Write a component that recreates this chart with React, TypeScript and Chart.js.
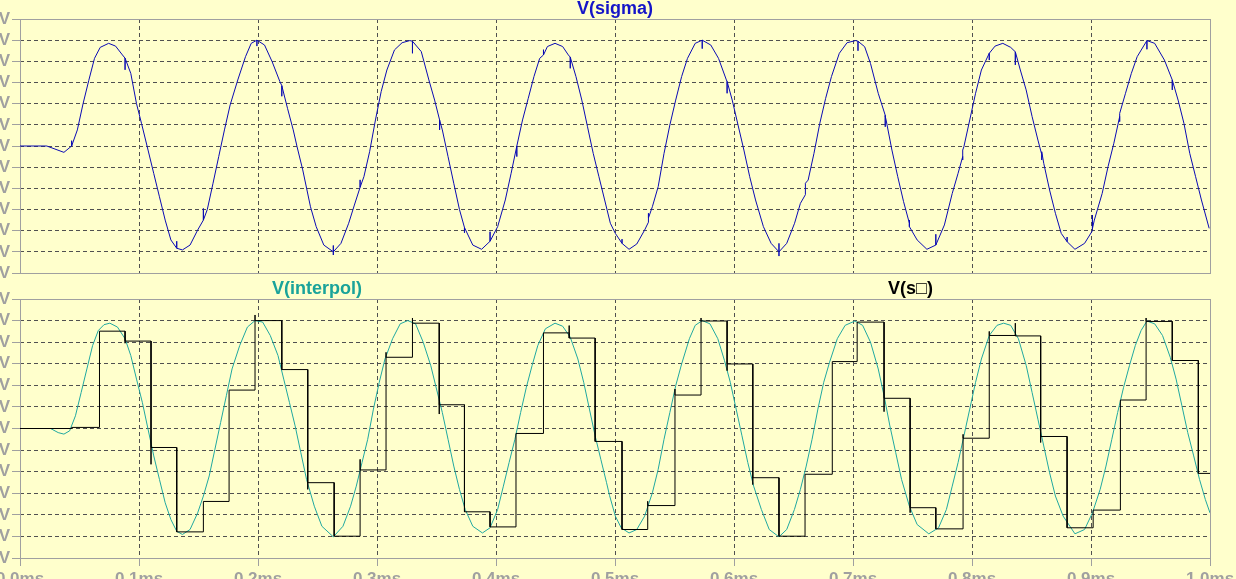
import React, { useEffect, useRef } from "react";
import { Chart, registerables } from "chart.js";

Chart.register(...registerables);

// ---------- data (time in ms, value in grid units) ----------
const xTickLabels = ["0.0ms", "0.1ms", "0.2ms", "0.3ms", "0.4ms", "0.5ms", "0.6ms", "0.7ms", "0.8ms", "0.9ms", "1.0ms"];
const yTickLabels = ["V", "V", "V", "V", "V", "V", "V", "V", "V", "V", "V", "V", "V"];

const sigmaTitle = "V(sigma)";
const interpolTitle = "V(interpol)";
const sampledTitle = "V(s\u25A1)";

// V(sigma): [time, value]; repeated times are the small glitches
const sigmaPoints: [number, number][] = [
  [0, 0], [0.0225, 0], [0.0369, -0.3], [0.0434, 0], [0.0434, 0.25], [0.0434, 0],
  [0.0482, 0.76], [0.053, 2.0], [0.0578, 3.1], [0.0626, 4.14], [0.0674, 4.66], [0.0745, 4.85],
  [0.0803, 4.72], [0.0861, 4.3], [0.0883, 4.15], [0.0883, 3.6], [0.0883, 4.15], [0.0931, 3.43],
  [0.0979, 2.0], [0.1021, 1.07], [0.1076, -0.19], [0.1124, -1.3], [0.1172, -2.4], [0.122, -3.5],
  [0.1268, -4.44], [0.1317, -4.83], [0.1317, -4.5], [0.1317, -4.83], [0.1365, -4.91], [0.1429, -4.68],
  [0.1493, -3.97], [0.1541, -3.5], [0.1541, -2.95], [0.1541, -3.5], [0.1574, -3.0], [0.1622, -1.76],
  [0.167, -0.5], [0.1718, 0.76], [0.1766, 1.94], [0.183, 3.12], [0.1895, 4.22], [0.1943, 4.85],
  [0.1991, 5.0], [0.1991, 4.72], [0.1991, 5.0], [0.2055, 4.77], [0.2119, 3.98], [0.2184, 3.04],
  [0.22, 2.85], [0.22, 2.35], [0.22, 2.85], [0.2248, 1.78], [0.2296, 0.76], [0.2328, -0.03],
  [0.2376, -1.13], [0.2441, -2.87], [0.2489, -3.81], [0.2553, -4.68], [0.2633, -5.0], [0.2633, -5.15],
  [0.2633, -4.7], [0.2633, -5.0], [0.2697, -4.6], [0.2762, -3.65], [0.281, -2.79], [0.2858, -1.95],
  [0.2858, -1.6], [0.2858, -1.95], [0.289, -1.45], [0.2938, -0.27], [0.2987, 1.23], [0.3035, 2.57],
  [0.3083, 3.59], [0.3147, 4.54], [0.3211, 4.88], [0.3276, 4.98], [0.3298, 4.95], [0.3298, 4.38],
  [0.3298, 4.95], [0.3372, 4.46], [0.3436, 3.12], [0.3484, 2.17], [0.3526, 1.23], [0.3526, 0.76],
  [0.3526, 1.23], [0.3549, 0.76], [0.3597, -0.5], [0.3645, -1.76], [0.3693, -3.0], [0.3735, -3.85],
  [0.3735, -4.1], [0.3735, -3.85], [0.3805, -4.68], [0.3879, -4.88], [0.395, -4.5], [0.395, -4.05],
  [0.395, -4.5], [0.4014, -3.81], [0.4078, -2.55], [0.4127, -1.29], [0.4175, 0], [0.4175, -0.5],
  [0.4175, 0], [0.4223, 1.23], [0.4271, 2.25], [0.4319, 3.28], [0.4367, 4.14], [0.4399, 4.3],
  [0.4399, 4.55], [0.4399, 4.3], [0.4432, 4.7], [0.4496, 4.85], [0.456, 4.7], [0.4608, 4.3],
  [0.4624, 4.2], [0.4624, 3.67], [0.4624, 4.2], [0.4672, 3.28], [0.4721, 2.17], [0.4769, 0.91],
  [0.4817, -0.35], [0.4865, -1.45], [0.4913, -2.55], [0.4961, -3.65], [0.5003, -4.13], [0.5059, -4.6],
  [0.5059, -4.4], [0.5059, -4.6], [0.5118, -4.88], [0.5183, -4.63], [0.5249, -3.97], [0.5281, -3.6],
  [0.5281, -3.18], [0.5281, -3.4], [0.5314, -2.87], [0.5363, -1.92], [0.5412, -0.35], [0.5461, 0.99],
  [0.551, 2.17], [0.556, 3.28], [0.5609, 4.14], [0.5674, 4.85], [0.5733, 5.0], [0.5733, 4.6],
  [0.5733, 5.0], [0.5805, 4.77], [0.587, 4.14], [0.5936, 3.12], [0.5942, 3.05], [0.5942, 2.49],
  [0.5942, 3.05], [0.5985, 2.17], [0.6034, 0.99], [0.6083, -0.19], [0.6132, -1.45], [0.6181, -2.55],
  [0.6247, -3.81], [0.6312, -4.6], [0.6378, -5.0], [0.6378, -5.2], [0.6378, -4.6], [0.6378, -5.0],
  [0.6443, -4.6], [0.6509, -3.65], [0.6558, -2.71], [0.66, -2.3], [0.66, -1.76], [0.6623, -1.61],
  [0.6672, -0.35], [0.6721, 1.07], [0.677, 2.25], [0.6819, 3.28], [0.6885, 4.38], [0.695, 4.88],
  [0.7022, 4.98], [0.7042, 4.95], [0.7042, 4.5], [0.7042, 4.95], [0.7098, 4.69], [0.7147, 3.9],
  [0.7212, 2.49], [0.7271, 1.45], [0.7271, 0.91], [0.7271, 1.4], [0.7278, 1.23], [0.7327, -0.19],
  [0.7376, -1.45], [0.7425, -2.63], [0.7474, -3.65], [0.7474, -3.5], [0.7474, -3.81], [0.7539, -4.44],
  [0.7621, -4.88], [0.7696, -4.68], [0.7696, -4.17], [0.7696, -4.68], [0.7768, -3.73], [0.7834, -2.24],
  [0.7883, -1.29], [0.7922, -0.5], [0.7922, -0.66], [0.7922, -0.19], [0.7932, -0.03], [0.7981, 1.23],
  [0.803, 2.49], [0.8079, 3.59], [0.8145, 4.38], [0.8145, 4.06], [0.8145, 4.38], [0.8194, 4.72],
  [0.8259, 4.85], [0.8325, 4.66], [0.8364, 4.45], [0.8364, 3.83], [0.8364, 4.45], [0.8406, 3.59],
  [0.8455, 2.65], [0.8505, 1.39], [0.8554, 0.28], [0.8586, -0.4], [0.8586, -0.66], [0.8586, -0.27],
  [0.8603, -0.82], [0.8652, -2.08], [0.8701, -3.18], [0.875, -4.13], [0.8799, -4.52], [0.8799, -4.3],
  [0.8799, -4.52], [0.8865, -4.88], [0.8946, -4.6], [0.9012, -4.0], [0.9012, -3.26], [0.9012, -3.9],
  [0.9028, -3.5], [0.9094, -2.24], [0.9143, -0.98], [0.9192, 0.13], [0.9241, 1.39], [0.9241, 1.15],
  [0.9241, 1.54], [0.929, 2.49], [0.9339, 3.43], [0.9388, 4.22], [0.947, 4.98], [0.947, 4.57],
  [0.947, 4.98], [0.9535, 4.85], [0.9617, 4.06], [0.9683, 3.12], [0.9683, 2.65], [0.9683, 3.12],
  [0.9732, 2.17], [0.9781, 1.07], [0.983, -0.35], [0.9879, -1.45], [0.9928, -2.55], [0.9993, -3.89],
];

// V(interpol): [time, value]
const interpolPoints: [number, number][] = [
  [0, 0], [0.0257, 0], [0.0321, -0.19], [0.0369, -0.26], [0.0417, -0.11], [0.0466, 0.59],
  [0.0514, 1.67], [0.0562, 2.76], [0.061, 3.84], [0.0658, 4.54], [0.0706, 4.81], [0.0755, 4.88],
  [0.0819, 4.7], [0.0883, 4.16], [0.0931, 3.38], [0.0979, 2.29], [0.1028, 1.21], [0.1076, -0.03],
  [0.1124, -1.27], [0.1172, -2.36], [0.122, -3.44], [0.1268, -4.22], [0.1317, -4.76], [0.1365, -4.91],
  [0.1429, -4.68], [0.1493, -3.91], [0.1541, -3.13], [0.159, -2.2], [0.1638, -0.96], [0.1686, 0.28],
  [0.1734, 1.52], [0.1782, 2.76], [0.1846, 3.84], [0.1911, 4.7], [0.1975, 5.0], [0.2039, 4.93],
  [0.2103, 4.31], [0.2168, 3.38], [0.2216, 2.29], [0.2264, 1.21], [0.2312, 0.12], [0.236, -1.12],
  [0.2408, -2.36], [0.2473, -3.6], [0.2537, -4.53], [0.2633, -5.02], [0.2714, -4.53], [0.2778, -3.6],
  [0.2826, -2.67], [0.2874, -1.58], [0.2922, -0.5], [0.297, 0.9], [0.3019, 2.14], [0.3067, 3.22],
  [0.3131, 4.16], [0.3195, 4.85], [0.3259, 5.0], [0.3324, 4.85], [0.3388, 4.0], [0.3452, 2.91],
  [0.35, 1.83], [0.3549, 0.74], [0.3597, -0.5], [0.3645, -1.74], [0.3693, -2.82], [0.3741, -3.75],
  [0.3805, -4.53], [0.3886, -4.84], [0.395, -4.6], [0.4014, -3.75], [0.4062, -2.67], [0.411, -1.58],
  [0.4159, -0.5], [0.4207, 0.74], [0.4255, 1.91], [0.4303, 2.91], [0.4351, 3.84], [0.4415, 4.62],
  [0.4496, 4.88], [0.456, 4.74], [0.4624, 4.23], [0.4688, 3.22], [0.4737, 2.14], [0.4785, 0.9],
  [0.4833, -0.34], [0.4881, -1.43], [0.4929, -2.51], [0.4954, -3.1], [0.5003, -4.06], [0.5052, -4.6],
  [0.5118, -4.84], [0.5183, -4.68], [0.5249, -4.06], [0.5314, -2.98], [0.5363, -1.89], [0.5412, -0.5],
  [0.5461, 0.74], [0.551, 1.98], [0.556, 2.99], [0.5625, 4.16], [0.5674, 4.78], [0.5733, 5.0],
  [0.5798, 4.85], [0.5864, 4.16], [0.592, 3.15], [0.5969, 2.14], [0.6018, 0.9], [0.6067, -0.34],
  [0.6116, -1.58], [0.6165, -2.67], [0.623, -3.75], [0.6296, -4.68], [0.6378, -5.02], [0.6443, -4.68],
  [0.6508, -3.75], [0.6558, -2.82], [0.6607, -1.74], [0.6656, -0.5], [0.6705, 0.9], [0.6754, 2.14],
  [0.6803, 3.07], [0.6868, 4.16], [0.6934, 4.78], [0.7016, 4.98], [0.7081, 4.78], [0.7147, 4.0],
  [0.7212, 2.76], [0.7261, 1.52], [0.731, 0.12], [0.7359, -1.12], [0.7408, -2.36], [0.7474, -3.6],
  [0.7539, -4.45], [0.7637, -4.88], [0.7719, -4.6], [0.7785, -3.75], [0.7834, -2.67], [0.7883, -1.58],
  [0.7932, -0.34], [0.7981, 0.9], [0.803, 2.14], [0.8079, 3.22], [0.8145, 4.31], [0.821, 4.78],
  [0.8266, 4.88], [0.8325, 4.78], [0.839, 4.16], [0.8456, 2.91], [0.8505, 1.67], [0.8554, 0.43],
  [0.8603, -0.81], [0.8652, -2.05], [0.8701, -3.13], [0.8766, -4.06], [0.8865, -4.88], [0.8946, -4.68],
  [0.9012, -3.91], [0.9077, -2.82], [0.9126, -1.74], [0.9175, -0.5], [0.9224, 0.74], [0.9274, 1.91],
  [0.9323, 2.91], [0.9372, 3.84], [0.9421, 4.54], [0.947, 4.98], [0.9535, 4.85], [0.9601, 4.31],
  [0.9666, 3.3], [0.9715, 2.29], [0.9764, 1.05], [0.9813, -0.19], [0.9863, -1.27], [0.9912, -2.36],
  [0.9961, -3.29], [1.0, -3.91],
];

// V(s□): sample-and-hold steps
const stepTimes = [
  0, 0.0434, 0.0668, 0.0883, 0.1101, 0.1317, 0.1541, 0.1757, 0.1975, 0.22, 0.2418, 0.264,
  0.2858, 0.3076, 0.3298, 0.3523, 0.3735, 0.395, 0.4168, 0.4399, 0.4615, 0.4833, 0.5059, 0.5275,
  0.5504, 0.5723, 0.5942, 0.6158, 0.6378, 0.6597, 0.6826, 0.7035, 0.7261, 0.748, 0.7696, 0.7925,
  0.8145, 0.8364, 0.8577, 0.8799, 0.9018, 0.9247, 0.9463, 0.9683, 0.9902,
];
const stepValues = [
  0, 0.05, 4.51, 4.05, -0.88, -4.79, -3.38, 1.78, 5.0, 2.73, -2.51, -4.99,
  -1.92, 3.3, 4.88, 1.1, -3.86, -4.56, -0.23, 4.43, 4.19, -0.6, -4.68, -3.57,
  1.55, 4.98, 2.99, -2.28, -4.99, -2.12, 3.1, 4.93, 1.4, -3.67, -4.65, -0.45,
  4.31, 4.29, -0.37, -4.6, -3.78, 1.32, 4.96, 3.15, -2.08,
];
const stepSpikes: (number | null)[] = [
  null, null, null, 3.95, -1.66, null, null, null, 5.26, null, -2.82, null,
  -1.43, 3.53, 5.12, 0.67, null, null, -0.73, null, 4.77, null, null, -3.37,
  1.83, 5.12, 2.68, -2.6, null, null, null, null, 0.78, -3.9, null, -0.27,
  4.5, 4.88, -0.65, null, null, null, 5.12, null, null,
];
const endTime = 1.0;

// ---------- styling ----------
const BG = "#FFFFCC";
const AXIS_GRAY = "#a0a0a0";
const GRID = "#505050";
const FONT = "Arial, 'Liberation Sans', sans-serif";

const boxPlugin = {
  id: "boxBorder",
  beforeDatasetsDraw(chart: any) {
    const { ctx, chartArea: a } = chart;
    ctx.save();
    ctx.strokeStyle = AXIS_GRAY;
    ctx.lineWidth = 1;
    ctx.setLineDash([]);
    ctx.strokeRect(Math.round(a.left) + 0.5, Math.round(a.top) + 0.5, Math.round(a.right - a.left), Math.round(a.bottom - a.top));
    ctx.restore();
  },
};

function toXY(pts: [number, number][]) {
  return pts.map(([x, y]) => ({ x, y }));
}

function buildSteps() {
  const out: { x: number; y: number }[] = [];
  for (let i = 0; i < stepTimes.length; i++) {
    const t = stepTimes[i];
    if (i > 0) out.push({ x: t, y: stepValues[i - 1] });
    const s = stepSpikes[i];
    if (s !== null) out.push({ x: t, y: s });
    out.push({ x: t, y: stepValues[i] });
  }
  out.push({ x: endTime, y: stepValues[stepValues.length - 1] });
  return out;
}

function yScale() {
  return {
    min: -6,
    max: 6,
    ticks: {
      stepSize: 1,
      autoSkip: false,
      callback: (_v: any, i: number) => yTickLabels[i],
      color: AXIS_GRAY,
      font: { family: FONT, size: 17, weight: "bold" as const },
      padding: 2,
    },
    grid: { color: GRID, tickColor: AXIS_GRAY, tickLength: 8, tickBorderDash: [] as number[] },
    border: { display: false, dash: [4, 3] },
    afterFit(s: any) {
      s.width = 20;
    },
  };
}

export default function App() {
  const topRef = useRef<HTMLCanvasElement>(null);
  const botRef = useRef<HTMLCanvasElement>(null);

  useEffect(() => {
    const top = new Chart(topRef.current!, {
      type: "line",
      data: {
        datasets: [
          {
            data: toXY(sigmaPoints),
            borderColor: "#0a0ab4",
            borderWidth: 1,
            pointRadius: 0,
            tension: 0,
            fill: false,
          },
        ],
      },
      options: {
        animation: false,
        responsive: false,
        events: [],
        layout: { padding: { top: 19, right: 26, bottom: 306, left: 0 } },
        plugins: { legend: { display: false }, tooltip: { enabled: false }, title: { display: false } },
        scales: {
          x: {
            type: "linear",
            min: 0,
            max: 1,
            ticks: { display: false, stepSize: 0.1, autoSkip: false },
            grid: { color: GRID, drawTicks: false },
            border: { display: false, dash: [4, 3] },
            afterFit(s: any) {
              s.height = 0;
              s.paddingLeft = 0;
              s.paddingRight = 0;
            },
          },
          y: yScale() as any,
        },
      },
      plugins: [boxPlugin],
    });

    const bot = new Chart(botRef.current!, {
      type: "line",
      data: {
        datasets: [
          {
            data: buildSteps(),
            borderColor: "#000000",
            borderWidth: 1,
            pointRadius: 0,
            tension: 0,
            fill: false,
          },
          {
            data: toXY(interpolPoints),
            borderColor: "#20a8a0",
            borderWidth: 1,
            pointRadius: 0,
            tension: 0,
            fill: false,
          },
        ],
      },
      options: {
        animation: false,
        responsive: false,
        events: [],
        layout: { padding: { top: 299, right: 26, bottom: 0, left: 0 } },
        plugins: { legend: { display: false }, tooltip: { enabled: false }, title: { display: false } },
        scales: {
          x: {
            type: "linear",
            min: 0,
            max: 1,
            ticks: {
              stepSize: 0.1,
              autoSkip: false,
              maxRotation: 0,
              callback: (_v: any, i: number) => xTickLabels[i],
              color: AXIS_GRAY,
              font: { family: FONT, size: 17, weight: "bold" as const },
              padding: 3,
            },
            grid: { color: GRID, tickColor: AXIS_GRAY, tickLength: 8, tickBorderDash: [] as number[] },
            border: { display: false, dash: [4, 3] },
            afterFit(s: any) {
              s.height = 21;
              s.paddingLeft = 0;
              s.paddingRight = 0;
            },
          },
          y: yScale() as any,
        },
      },
      plugins: [boxPlugin],
    });

    return () => {
      top.destroy();
      bot.destroy();
    };
  }, []);

  const titleBase: React.CSSProperties = {
    position: "absolute",
    fontFamily: FONT,
    fontWeight: "bold",
    fontSize: 18,
    lineHeight: "18px",
    whiteSpace: "nowrap",
  };

  return (
    <div
      style={{
        position: "fixed",
        left: 0,
        top: 0,
        width: 1236,
        height: 579,
        background: BG,
        overflow: "hidden",
      }}
    >
      <canvas ref={topRef} width={1236} height={579} style={{ position: "absolute", left: 0, top: 0, width: 1236, height: 579 }} />
      <canvas ref={botRef} width={1236} height={579} style={{ position: "absolute", left: 0, top: 0, width: 1236, height: 579 }} />
      <div style={{ ...titleBase, left: 20, width: 1190, textAlign: "center", top: -1, color: "#1414c8" }}>{sigmaTitle}</div>
      <div style={{ ...titleBase, left: 272, top: 279, color: "#1aa39a" }}>{interpolTitle}</div>
      <div style={{ ...titleBase, left: 888, top: 279, color: "#000000" }}>{sampledTitle}</div>
    </div>
  );
}
